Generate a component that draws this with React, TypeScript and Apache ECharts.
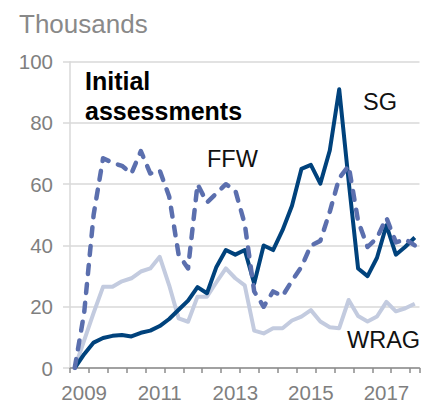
import React, { useEffect, useRef } from "react";
import * as echarts from "echarts";

const categories = [
  "2008Q4",
  "2009Q1", "2009Q2", "2009Q3", "2009Q4",
  "2010Q1", "2010Q2", "2010Q3", "2010Q4",
  "2011Q1", "2011Q2", "2011Q3", "2011Q4",
  "2012Q1", "2012Q2", "2012Q3", "2012Q4",
  "2013Q1", "2013Q2", "2013Q3", "2013Q4",
  "2014Q1", "2014Q2", "2014Q3", "2014Q4",
  "2015Q1", "2015Q2", "2015Q3", "2015Q4",
  "2016Q1", "2016Q2", "2016Q3", "2016Q4",
  "2017Q1", "2017Q2", "2017Q3", "2017Q4",
];

const sgValues = [
  0, 4.5, 8.3, 9.8, 10.5, 10.8, 10.3, 11.5, 12.2, 13.7, 16, 19, 22, 26.4, 24.4, 33,
  38.5, 37, 38.5, 27.6, 40, 38.5, 45, 53, 65, 66.3, 60.2, 71, 91, 61, 32.5, 30, 36,
  46.6, 37, 39.6, 42.6,
];

const ffwValues = [
  0, 18, 50, 68.5, 67, 66, 63.5, 70.8, 63.5, 64.5, 56, 37, 32.5, 60, 54, 57, 60, 58,
  47, 25, 20, 25, 23.5, 28.5, 33, 40, 41.5, 51, 62, 66, 48, 39.5, 42.5, 49, 41, 42, 40,
];

const wragValues = [
  0, 9, 18, 26.5, 26.5, 28.3, 29.3, 31.5, 32.5, 36.3, 27, 16.2, 15.1, 23.3, 23.3, 28,
  32.5, 29.3, 27, 12.2, 11.3, 13, 13, 15.5, 16.8, 18.9, 15.2, 13.3, 13, 22.2, 17, 15.2,
  16.8, 21.6, 18.5, 19.5, 21,
];

const yMin = 0;
const yMax = 100;
const yStep = 20;

const FONT = "'Liberation Sans', Arial, sans-serif";

export default function App() {
  const ref = useRef<HTMLDivElement>(null);

  useEffect(() => {
    const chart = echarts.init(ref.current as HTMLDivElement, null, { renderer: "svg" });
    chart.setOption({
      animation: false,
      grid: { left: 70, right: 3.5, top: 61.7, bottom: 34.7, containLabel: false },
      xAxis: {
        type: "category",
        data: categories,
        boundaryGap: true,
        axisLine: { show: true, lineStyle: { color: "#8c8c8c", width: 1.5 } },
        axisTick: {
          show: true,
          interval: (i: number) => i % 2 === 0,
          length: 5,
          lineStyle: { color: "#8c8c8c", width: 1.5 },
        },
        axisLabel: {
          interval: (i: number) => (i - 1) % 8 === 0,
          formatter: (v: string) => v.slice(0, 4),
          margin: 14,
          fontSize: 20.5,
          color: "#7f7f7f",
          fontFamily: FONT,
        },
        splitLine: { show: false },
      },
      yAxis: {
        type: "value",
        min: yMin,
        max: yMax,
        interval: yStep,
        axisLine: { show: true, lineStyle: { color: "#d9d9d9", width: 1.5 } },
        axisTick: { show: true, length: 7, lineStyle: { color: "#d9d9d9", width: 1.5 } },
        splitLine: { show: true, lineStyle: { color: "#d9d9d9", width: 1.5 } },
        axisLabel: { margin: 17, fontSize: 20.5, color: "#7f7f7f", fontFamily: FONT },
      },
      series: [
        {
          name: "WRAG",
          type: "line",
          data: wragValues,
          symbol: "none",
          lineStyle: { color: "#c3cbdf", width: 4, join: "round" },
          z: 2,
        },
        {
          name: "SG",
          type: "line",
          data: sgValues,
          symbol: "none",
          lineStyle: { color: "#00427c", width: 4, join: "round" },
          z: 3,
        },
        {
          name: "FFW",
          type: "line",
          data: ffwValues,
          symbol: "none",
          lineStyle: { color: "#5b6fae", width: 4.5, type: [9, 10], cap: "round", join: "round" },
          z: 4,
        },
      ],
      graphic: [
        {
          type: "text",
          x: 19,
          y: 24,
          style: { text: "Thousands", fontSize: 26, fontFamily: FONT, fill: "#898989", verticalAlign: "middle" },
        },
        {
          type: "text",
          x: 85,
          y: 80.8,
          style: { text: "Initial", fontSize: 25, fontWeight: "bold", fontFamily: FONT, fill: "#000000", verticalAlign: "middle" },
        },
        {
          type: "text",
          x: 85,
          y: 111.3,
          style: { text: "assessments", fontSize: 25, fontWeight: "bold", fontFamily: FONT, fill: "#000000", verticalAlign: "middle" },
        },
        {
          type: "text",
          x: 363,
          y: 102,
          style: { text: "SG", fontSize: 23.5, fontFamily: FONT, fill: "#111111", verticalAlign: "middle" },
        },
        {
          type: "text",
          x: 207,
          y: 159,
          style: { text: "FFW", fontSize: 23.5, fontFamily: FONT, fill: "#111111", verticalAlign: "middle" },
        },
        {
          type: "text",
          x: 347,
          y: 340,
          style: { text: "WRAG", fontSize: 23.5, fontFamily: FONT, fill: "#111111", verticalAlign: "middle" },
        },
      ],
    });
    return () => chart.dispose();
  }, []);

  return (
    <div
      ref={ref}
      style={{ position: "absolute", left: 0, top: 0, width: 423, height: 403, background: "#ffffff" }}
    />
  );
}
